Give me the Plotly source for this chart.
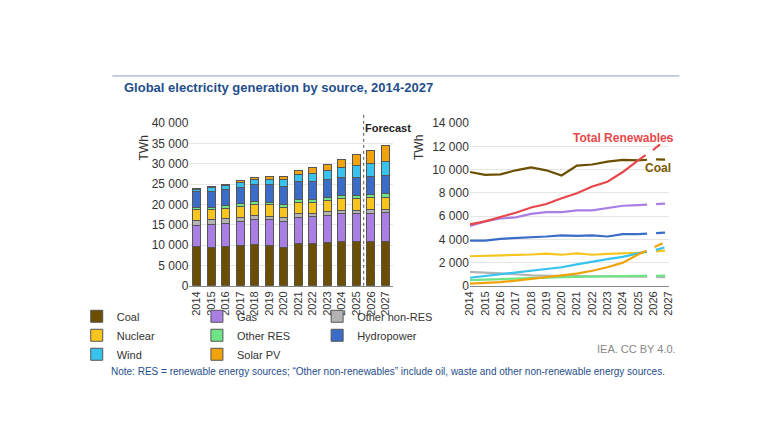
import plotly.graph_objects as go

years = [str(y) for y in range(2014, 2028)]
coal = [9800,9550,9600,9950,10200,9950,9500,10350,10450,10700,10850,10800,10900,10850]
gas = [5150,5550,5800,5900,6200,6350,6350,6500,6500,6700,6900,6950,7000,7100]
other_nonres = [1200,1150,1050,1000,900,850,850,850,850,850,850,800,800,750]
nuclear = [2550,2580,2620,2650,2700,2780,2680,2800,2680,2750,2800,2850,2950,3050]
other_res = [500,550,600,650,700,700,750,780,800,820,850,860,870,880]
hydro = [3900,3900,4050,4100,4200,4250,4350,4300,4350,4250,4450,4450,4500,4600]
wind = [700,850,950,1100,1250,1400,1600,1850,2100,2300,2500,2800,3050,3400]
solar = [200,250,330,450,600,700,850,1050,1300,1600,2000,2700,3300,3900]
total_ren = [a+b+c+d for a,b,c,d in zip(other_res, hydro, wind, solar)]

series = [("Coal", coal, "#6B4E00"), ("Gas", gas, "#A97FE3"),
          ("Other non-RES", other_nonres, "#B3B3B3"), ("Nuclear", nuclear, "#F7C51E"),
          ("Other RES", other_res, "#6EE486"), ("Hydropower", hydro, "#3B6CC8"),
          ("Wind", wind, "#38C3EF"), ("Solar PV", solar, "#F0A30A")]

FONT = "Liberation Sans, Arial, sans-serif"
fig = go.Figure()
for name, vals, col in series:
    fig.add_trace(go.Bar(x=years, y=vals, name=name, marker=dict(color=col, line=dict(color="#555555", width=1)),
                         width=0.55, xaxis="x", yaxis="y"))
lines = series + [("Total Renewables", total_ren, "#E8484B")]
for name, vals, col in lines:
    fig.add_trace(go.Scatter(x=years[:12], y=vals[:12], mode="lines", line=dict(color=col, width=2.2),
                             showlegend=False, xaxis="x2", yaxis="y2"))
    fig.add_trace(go.Scatter(x=years[11:], y=vals[11:], mode="lines", line=dict(color=col, width=2.2, dash="dash"),
                             showlegend=False, xaxis="x2", yaxis="y2"))

ax = dict(tickangle=-90, tickfont=dict(size=11, color="#333"), showline=True, linecolor="#888",
          showgrid=False, ticks="")
ay = dict(tickfont=dict(size=12, color="#333"), gridcolor="#e6e6e6", showline=False, zeroline=False,
          separatethousands=True, exponentformat="none", tickformat=",d")
fig.update_layout(
    width=768, height=432, margin=dict(l=0, r=0, t=0, b=0),
    paper_bgcolor="white", plot_bgcolor="white", barmode="stack",
    font=dict(family=FONT, color="#333"),
    separators=". ",
    xaxis=dict(domain=[0.232, 0.501], anchor="y", **ax),
    yaxis=dict(domain=[0.352, 0.741], range=[0, 40000], dtick=5000, anchor="x", **ay),
    xaxis2=dict(domain=[0.603, 0.866], anchor="y2", **ax),
    yaxis2=dict(domain=[0.352, 0.741], range=[0, 14000], dtick=2000, anchor="x2", **ay),
    legend=dict(orientation="h", x=0.16, y=1-331/432, xanchor="left", yanchor="middle",
                font=dict(size=11, color="#333"), traceorder="normal", itemwidth=30,
                tracegroupgap=0, bgcolor="rgba(0,0,0,0)"),
    shapes=[
        dict(type="line", xref="paper", yref="paper", x0=0.13, x1=0.88, y0=1-63/432, y1=1-63/432,
             line=dict(color="#8aa0c0", width=1)),
        dict(type="line", xref="x", yref="paper", x0=11.5, x1=11.5, y0=0.352, y1=1-100/432,
             line=dict(color="#555", width=1, dash="dot")),
    ],
    annotations=[
        dict(text="<b>Global electricity generation by source, 2014-2027</b>", xref="paper", yref="paper",
             x=110/768, y=1-75/432, xanchor="left", yanchor="middle", showarrow=False,
             font=dict(size=13, color="#1F4E8C")),
        dict(text="TWh", xref="paper", yref="paper", x=0.16, y=1-122/432, textangle=-90, showarrow=False,
             font=dict(size=12, color="#333")),
        dict(text="TWh", xref="paper", yref="paper", x=0.535, y=1-122/432, textangle=-90, showarrow=False,
             font=dict(size=12, color="#333")),
        dict(text="<b>Forecast</b>", xref="paper", yref="paper", x=355/768, y=1-108/432, xanchor="left",
             showarrow=False, font=dict(size=11, color="#222")),
        dict(text="<b>Total Renewables</b>", xref="paper", yref="paper", x=672/768, y=1-118/432, xanchor="right",
             showarrow=False, font=dict(size=12, color="#E8484B")),
        dict(text="<b>Coal</b>", xref="paper", yref="paper", x=669/768, y=1-158/432, xanchor="right",
             showarrow=False, font=dict(size=12, color="#7A5A00")),
        dict(text="IEA. CC BY 4.0.", xref="paper", yref="paper", x=675/768, y=1-353/432, xanchor="right",
             showarrow=False, font=dict(size=11, color="#888")),
        dict(text="Note: RES = renewable energy sources; “Other non-renewables” include oil, waste and other non-renewable energy sources.",
             xref="paper", yref="paper", x=97/768, y=1-376/432, xanchor="left", showarrow=False,
             font=dict(size=10, color="#1F4E8C")),
    ],
)
fig.write_html("out.html")
